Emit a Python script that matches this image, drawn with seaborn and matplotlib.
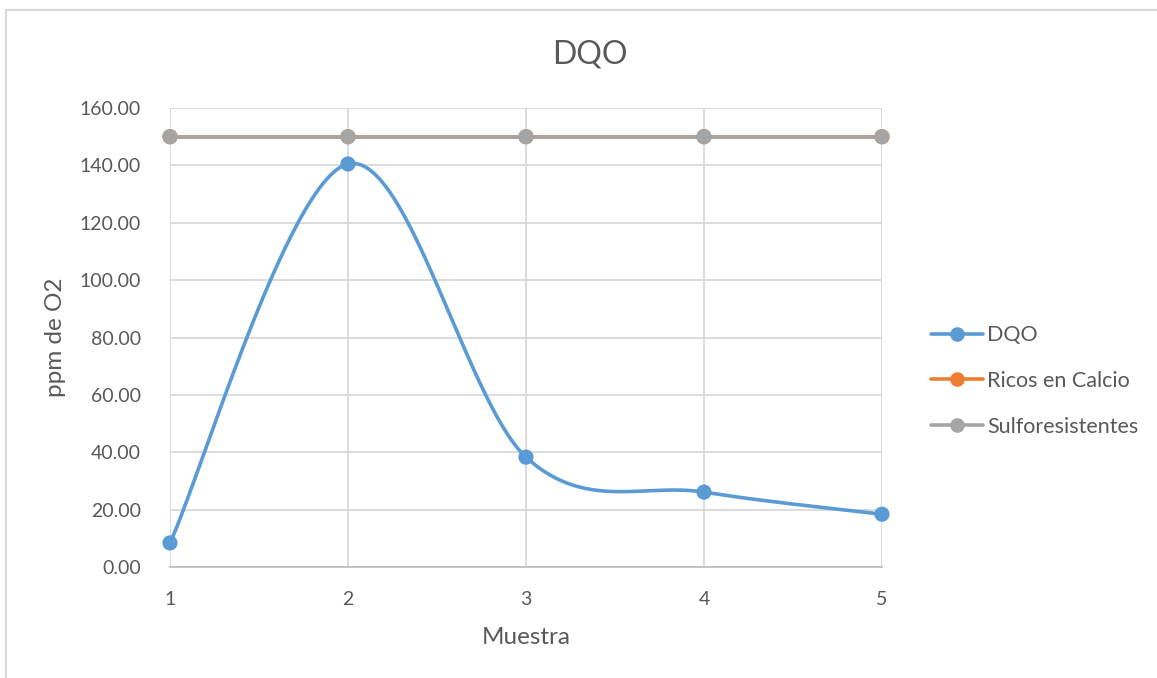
import numpy as np
import pandas as pd
import matplotlib
matplotlib.use("Agg")
import matplotlib.pyplot as plt
from matplotlib.lines import Line2D
import seaborn as sns

# Data
muestra = [1, 2, 3, 4, 5]
dqo = [8.4, 140.5, 38.3, 26.1, 18.4]
ricos_calcio = [150, 150, 150, 150, 150]
sulforesistentes = [150, 150, 150, 150, 150]
series_names = ["DQO", "Ricos en Calcio", "Sulforesistentes"]
colors = ["#5B9BD5", "#ED7D31", "#A5A5A5"]
y_ticks = [0, 20, 40, 60, 80, 100, 120, 140, 160]

TEXT = "#595959"


def smooth(xs, ys, n=60):
    """Cubic Bezier smoothing between consecutive points (spreadsheet style)."""
    x = np.asarray(xs, float)
    y = np.asarray(ys, float)
    px = np.concatenate([[x[0]], x, [x[-1]]])
    py = np.concatenate([[y[0]], y, [y[-1]]])
    out_x, out_y = [], []
    t = np.linspace(0, 1, n)
    for i in range(1, len(px) - 2):
        p0 = np.array([px[i], py[i]])
        p3 = np.array([px[i + 1], py[i + 1]])
        c1 = p0 + (np.array([px[i + 1], py[i + 1]]) - np.array([px[i - 1], py[i - 1]])) / 6
        c2 = p3 - (np.array([px[i + 2], py[i + 2]]) - np.array([px[i], py[i]])) / 6
        b = ((1 - t) ** 3)[:, None] * p0 + (3 * (1 - t) ** 2 * t)[:, None] * c1 \
            + (3 * (1 - t) * t ** 2)[:, None] * c2 + (t ** 3)[:, None] * p3
        out_x.extend(b[:, 0] if i == 1 else b[1:, 0])
        out_y.extend(b[:, 1] if i == 1 else b[1:, 1])
    return np.array(out_x), np.array(out_y)


sns.set_theme(style="white")
plt.rcParams["font.family"] = ["Lato", "DejaVu Sans"]

fig = plt.figure(figsize=(11.57, 6.78), dpi=100)
ax = fig.add_axes([0.1469, 0.1637, 0.6154, 0.6770])

all_values = [dqo, ricos_calcio, sulforesistentes]
for name, vals, col in zip(series_names, all_values, colors):
    sx, sy = smooth(muestra, vals)
    df = pd.DataFrame({"x": sx, "y": sy})
    sns.lineplot(data=df, x="x", y="y", ax=ax, color=col, linewidth=2.6,
                 sort=False, estimator=None, zorder=3)
    pts = pd.DataFrame({"x": muestra, "y": vals})
    sns.scatterplot(data=pts, x="x", y="y", ax=ax, color=col, s=120,
                    edgecolor="none", zorder=4, clip_on=False)

ax.set_xlim(1, 5)
ax.set_ylim(0, 160)
ax.set_xticks(muestra)
ax.set_xticklabels([str(m) for m in muestra])
ax.set_yticks(y_ticks)
ax.set_yticklabels([f"{v:.2f}" for v in y_ticks])
ax.tick_params(axis="both", labelsize=14, colors=TEXT, length=0)
ax.tick_params(axis="x", pad=17)
ax.tick_params(axis="y", pad=21)

ax.grid(True, color="#D9D9D9", linewidth=1.3)
ax.set_axisbelow(True)
for side in ["top", "right", "left"]:
    ax.spines[side].set_visible(False)
ax.spines["bottom"].set_color("#BFBFBF")
ax.spines["bottom"].set_linewidth(1.3)

ax.set_xlabel("Muestra", fontsize=17.5, color=TEXT, labelpad=14)
ax.set_ylabel("ppm de O2", fontsize=17.5, color=TEXT, labelpad=10)
fig.text(590 / 1157, 1 - 55 / 678, "DQO", fontsize=23, color=TEXT,
         ha="center", va="center")

handles = [Line2D([0], [0], color=c, linewidth=2.6, marker="o", markersize=10.5,
                  markeredgewidth=0) for c in colors]
leg = fig.legend(handles, series_names, loc="center left",
                 bbox_to_anchor=(0.788, 1 - 381 / 678), frameon=False, fontsize=15.5,
                 labelspacing=1.2, handlelength=2.4, handletextpad=0.2)
for t in leg.get_texts():
    t.set_color(TEXT)

# chart frame edges
fig.add_artist(Line2D([0.0055, 1.0], [1 - 9.5 / 678, 1 - 9.5 / 678],
                      transform=fig.transFigure, color="#D9D9D9", linewidth=1.5))
fig.add_artist(Line2D([0.0055, 0.0055], [0, 1 - 9.5 / 678],
                      transform=fig.transFigure, color="#D9D9D9", linewidth=1.5))

fig.savefig("out.png", dpi=100, facecolor="white")
